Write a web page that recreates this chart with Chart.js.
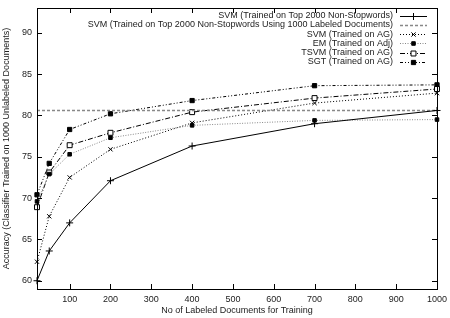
<!DOCTYPE html>
<html>
<head>
<meta charset="utf-8">
<script src="https://cdn.jsdelivr.net/npm/chart.js@4.4.1/dist/chart.umd.min.js"></script>
<style>
  html, body { margin: 0; padding: 0; background: #fff; }
</style>
</head>
<body>
<canvas id="chart" width="450" height="318"></canvas>
<script>
// values
const docs = [20, 50, 100, 200, 400, 700, 1000];
const svmTop2000 = [60.0, 63.6, 67.0, 72.1, 76.3, 79.0, 80.6];
const svm1000Labeled = 80.6;
const svmAG = [62.3, 67.8, 72.5, 75.9, 79.1, 81.5, 82.7];
const emAdj = [69.6, 72.9, 75.3, 77.3, 78.8, 79.4, 79.5];
const tsvmAG = [68.9, 73.1, 76.4, 77.9, 80.4, 82.1, 83.2];
const sgtAG = [70.4, 74.2, 78.3, 80.2, 81.8, 83.6, 83.7];

const xTicks = [100, 200, 300, 400, 500, 600, 700, 800, 900, 1000];
const yTicks = [60, 65, 70, 75, 80, 85, 90];

const seriesNames = [
  'SVM (Trained on Top 2000 Non-Stopwords)',
  'SVM (Trained on Top 2000 Non-Stopwords Using 1000 Labeled Documents)',
  'SVM (Trained on AG)',
  'EM (Trained on Adj)',
  'TSVM (Trained on AG)',
  'SGT (Trained on AG)'
];

const FONT = '"Liberation Sans", Arial, sans-serif';
const TEXT = '#222';

function pts(vals) {
  return docs.map((d, i) => ({ x: d, y: vals[i] }));
}

function line(label, data, extra) {
  return Object.assign({
    label: label,
    data: data,
    borderColor: '#000',
    backgroundColor: '#000',
    borderWidth: 1,
    pointBorderColor: '#000',
    pointBackgroundColor: '#000',
    pointBorderWidth: 1,
    pointRadius: 3,
    tension: 0,
    clip: false
  }, extra);
}

const datasets = [
  line(seriesNames[0], pts(svmTop2000), { pointStyle: 'cross', pointRadius: 3.5 }),
  line(seriesNames[1], [{ x: docs[0], y: svm1000Labeled }, { x: docs[docs.length - 1], y: svm1000Labeled }],
    { borderColor: '#888', borderDash: [3, 2], borderWidth: 1.5, pointRadius: 0 }),
  line(seriesNames[2], pts(svmAG), { borderDash: [1, 2], pointStyle: 'crossRot', pointRadius: 3 }),
  line(seriesNames[3], pts(emAdj), { borderColor: '#888', borderDash: [1, 1.5], pointStyle: 'rect', pointRadius: 2.5 }),
  line(seriesNames[4], pts(tsvmAG), { borderDash: [5, 2, 1, 2], pointStyle: 'rect', pointRadius: 3.5, pointBackgroundColor: '#fff' }),
  line(seriesNames[5], pts(sgtAG), { borderDash: [3, 2, 1, 2, 1, 2], pointStyle: 'rect', pointRadius: 3 })
];

// gnuplot-like frame with inward ticks on all four sides
const framePlugin = {
  id: 'frame',
  afterDraw(chart) {
    const ctx = chart.ctx;
    const a = chart.chartArea;
    const xs = chart.scales.x, ys = chart.scales.y;
    const tl = 5;
    ctx.save();
    ctx.strokeStyle = '#000';
    ctx.lineWidth = 1;
    ctx.strokeRect(Math.round(a.left) + 0.5, Math.round(a.top) + 0.5,
      Math.round(a.right - a.left), Math.round(a.bottom - a.top));
    ctx.beginPath();
    xTicks.forEach(v => {
      const px = Math.round(xs.getPixelForValue(v)) + 0.5;
      ctx.moveTo(px, a.bottom); ctx.lineTo(px, a.bottom - tl);
      ctx.moveTo(px, a.top); ctx.lineTo(px, a.top + tl);
    });
    yTicks.forEach(v => {
      const py = Math.round(ys.getPixelForValue(v)) + 0.5;
      ctx.moveTo(a.left, py); ctx.lineTo(a.left + tl, py);
      ctx.moveTo(a.right, py); ctx.lineTo(a.right - tl, py);
    });
    ctx.stroke();
    ctx.restore();
  }
};

// key in the top right, text right-aligned and sample to the right
const keyPlugin = {
  id: 'key',
  afterDraw(chart) {
    const ctx = chart.ctx;
    const textX = 393, x0 = 400, x1 = 427, top = 15.5, step = 9.3;
    ctx.save();
    ctx.font = '9px ' + FONT;
    ctx.textAlign = 'right';
    ctx.textBaseline = 'middle';
    chart.data.datasets.forEach((ds, i) => {
      const y = top + i * step;
      ctx.fillStyle = TEXT;
      ctx.fillText(ds.label, textX, y);
      ctx.strokeStyle = ds.borderColor;
      ctx.lineWidth = ds.borderWidth;
      ctx.setLineDash(ds.borderDash || []);
      ctx.beginPath();
      ctx.moveTo(x0, Math.round(y) + 0.5);
      ctx.lineTo(x1, Math.round(y) + 0.5);
      ctx.stroke();
      ctx.setLineDash([]);
      if (ds.pointRadius > 0) {
        ctx.strokeStyle = ds.pointBorderColor;
        ctx.fillStyle = ds.pointBackgroundColor;
        ctx.lineWidth = ds.pointBorderWidth;
        Chart.helpers.drawPoint(ctx, {
          pointStyle: ds.pointStyle, radius: ds.pointRadius, borderWidth: ds.pointBorderWidth, rotation: 0
        }, (x0 + x1) / 2, Math.round(y) + 0.5);
      }
    });
    ctx.restore();
  }
};

const chart = new Chart(document.getElementById('chart'), {
  type: 'line',
  data: { datasets: datasets },
  plugins: [framePlugin, keyPlugin],
  options: {
    responsive: false,
    animation: false,
    layout: { padding: { top: 8, right: 13, left: 0, bottom: 0 } },
    plugins: { legend: { display: false }, tooltip: { enabled: false } },
    scales: {
      x: {
        type: 'linear',
        min: 20,
        max: 1000,
        afterBuildTicks: s => { s.ticks = xTicks.map(v => ({ value: v })); },
        afterFit: s => { s.height = 29; s.paddingLeft = 0; s.paddingRight = 0; },
        grid: { display: false, drawTicks: false },
        border: { display: false },
        ticks: { color: TEXT, font: { family: FONT, size: 9 }, padding: 5, maxRotation: 0, autoSkip: false,
          callback: v => String(v) },
        title: { display: true, text: 'No of Labeled Documents for Training', color: TEXT,
          font: { family: FONT, size: 9 }, padding: { top: 0, bottom: 2 } }
      },
      y: {
        min: 59,
        max: 93,
        afterBuildTicks: s => { s.ticks = yTicks.map(v => ({ value: v })); },
        afterFit: s => { s.width = 37; s.paddingTop = 0; s.paddingBottom = 0; },
        grid: { display: false, drawTicks: false },
        border: { display: false },
        ticks: { color: TEXT, font: { family: FONT, size: 9 }, padding: 5, autoSkip: false,
          callback: v => String(v) },
        title: { display: true, text: 'Accuracy (Classifier Trained on 1000 Unlabeled Documents)', color: TEXT,
          font: { family: FONT, size: 9 }, padding: { top: 1, bottom: 0 } }
      }
    }
  }
});
</script>
</body>
</html>
